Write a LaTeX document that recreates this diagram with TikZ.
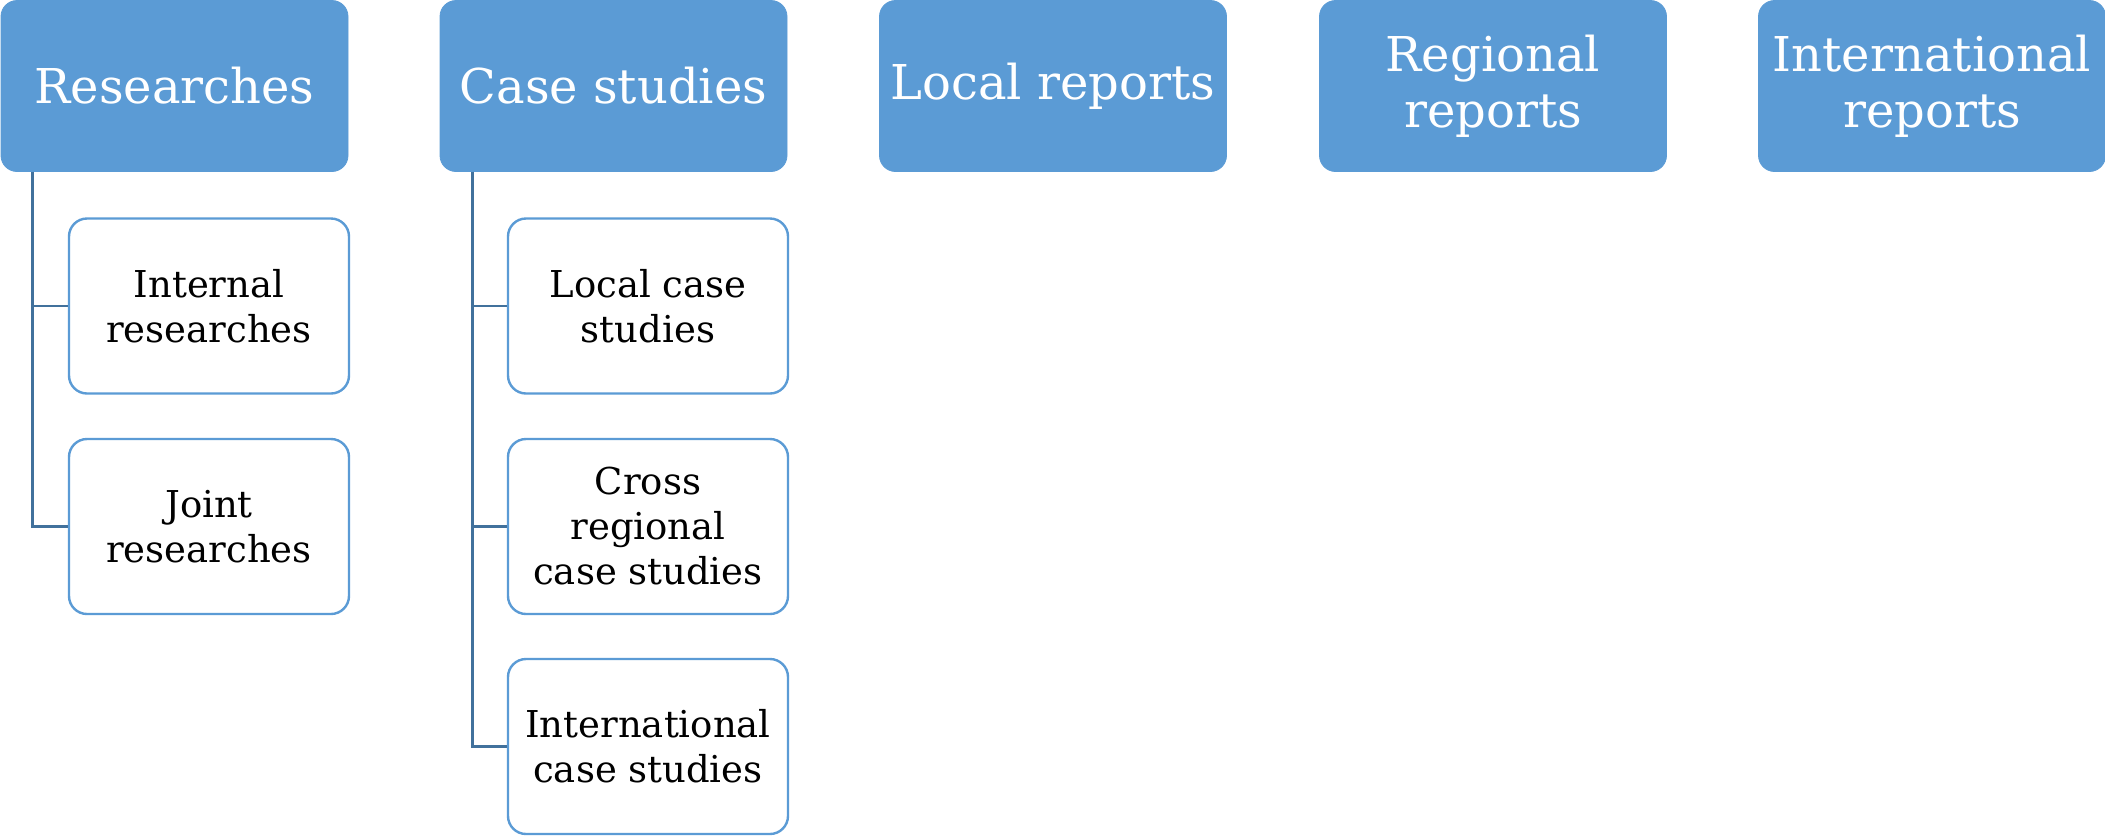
\documentclass[tikz,border=0pt]{standalone}
\usepackage{fontspec}
\setmainfont{DejaVu Serif}
\definecolor{boxblue}{HTML}{5B9BD5}
\definecolor{linkblue}{HTML}{41719C}

\begin{document}
\begin{tikzpicture}[x=0.5pt, y=-0.5pt,
    head/.style={draw=boxblue, fill=boxblue, rounded corners=8pt, align=center, minimum width=173.5pt, minimum height=85.5pt, inner sep=2pt, text=white, font=\fontsize{24}{28}\selectfont},
    item/.style={draw=boxblue, line width=1.2pt, fill=white, rounded corners=9pt, align=center, minimum width=140pt, minimum height=87.5pt, inner sep=2pt, font=\fontsize{18.5}{22.5}\selectfont},
    link/.style={draw=linkblue, line width=1.2pt}
  ]
    \useasboundingbox (0,0) rectangle (2105,836);

    % top row
    \node[head] (res) at (174.5,86) {Researches};
    \node[head] (cases) at (613.5,86) {Case studies};
    \node[head] (localrep) at (1053,86) {Local reports};
    \node[head] (regrep) at (1493,86) {Regional\\reports};
    \node[head] (intrep) at (1932,86) {International\\reports};

    % research items
    \node[item] (intres) at (209,306) {Internal\\researches};
    \node[item] (jointres) at (209,526.5) {Joint\\researches};

    % case study items
    \node[item] (localcs) at (648,306) {Local case\\studies};
    \node[item] (crosscs) at (648,526.5) {Cross\\regional\\case studies};
    \node[item] (intcs) at (648,746.5) {International\\case studies};

    \draw[link] ([xshift=16pt]res.south west) |- (intres.west);
    \draw[link] ([xshift=16pt]res.south west) |- (jointres.west);
    \draw[link] ([xshift=16.5pt]cases.south west) |- (localcs.west);
    \draw[link] ([xshift=16.5pt]cases.south west) |- (crosscs.west);
    \draw[link] ([xshift=16.5pt]cases.south west) |- (intcs.west);
  \end{tikzpicture}
\end{document}
